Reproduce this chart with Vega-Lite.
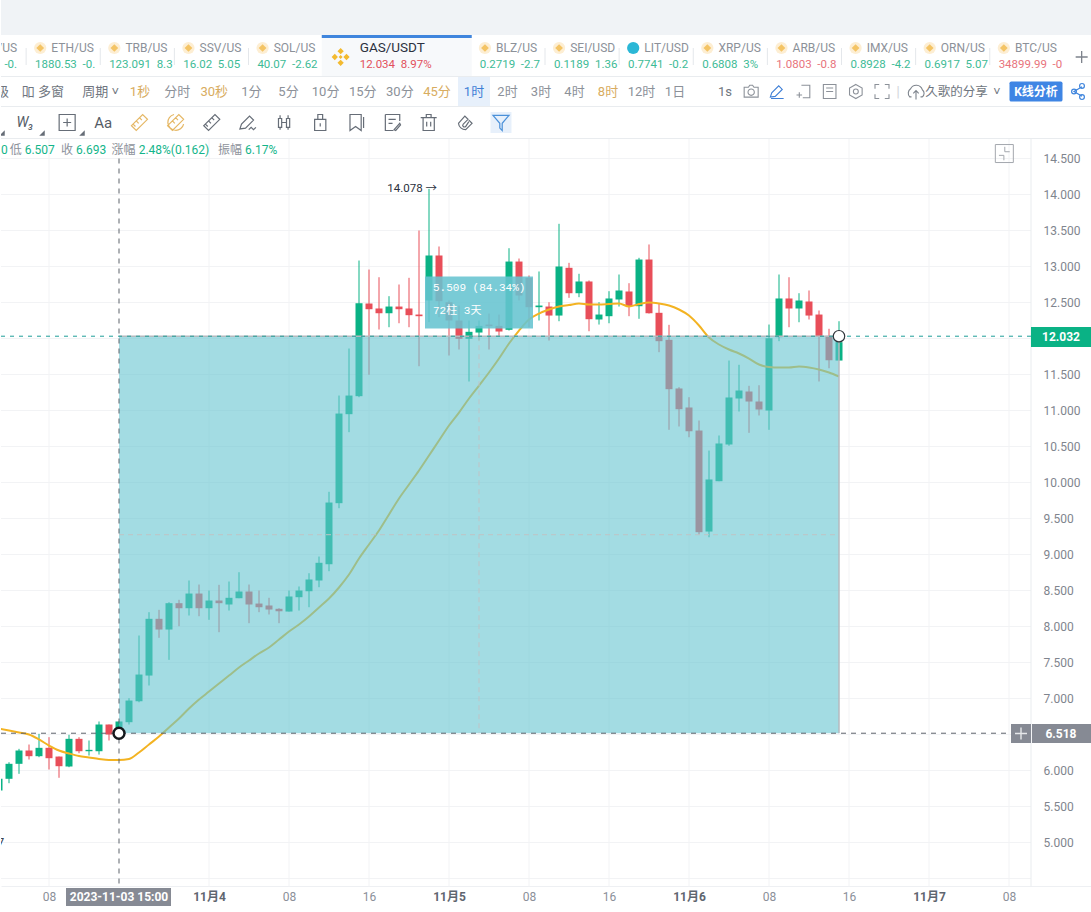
{
  "$schema": "https://vega.github.io/schema/vega-lite/v6.json",
  "padding": 0,
  "spacing": 0,
  "bounds": "flush",
  "background": "white",
  "resolve": {"scale": {"color": "independent", "shape": "independent"}},
  "config": {"font": "Roboto, 'Noto Sans CJK SC', sans-serif", "view": {"stroke": null}},
  "datasets": {
    "tabs": [
      {"tab": "ETH", "name": "ETH/US", "value": "1880.53\u00a0\u00a0-0.", "trend": "up", "coin": "binance"},
      {"tab": "TRB", "name": "TRB/US", "value": "123.091\u00a0\u00a08.3", "trend": "up", "coin": "binance"},
      {"tab": "SSV", "name": "SSV/US", "value": "16.02\u00a0\u00a05.05", "trend": "up", "coin": "binance"},
      {"tab": "SOL", "name": "SOL/US", "value": "40.07\u00a0\u00a0-2.62", "trend": "up", "coin": "binance"},
      {"tab": "BLZ", "name": "BLZ/US", "value": "0.2719\u00a0\u00a0-2.7", "trend": "up", "coin": "binance"},
      {"tab": "SEI", "name": "SEI/USD", "value": "0.1189\u00a0\u00a01.36", "trend": "up", "coin": "binance"},
      {"tab": "LIT", "name": "LIT/USD", "value": "0.7741\u00a0\u00a0-0.2", "trend": "up", "coin": "lit"},
      {"tab": "XRP", "name": "XRP/US", "value": "0.6808\u00a0\u00a03%", "trend": "up", "coin": "binance"},
      {"tab": "ARB", "name": "ARB/US", "value": "1.0803\u00a0\u00a0-0.8", "trend": "down", "coin": "binance"},
      {"tab": "IMX", "name": "IMX/US", "value": "0.8928\u00a0\u00a0-4.2", "trend": "up", "coin": "binance"},
      {"tab": "ORN", "name": "ORN/US", "value": "0.6917\u00a0\u00a05.07", "trend": "up", "coin": "binance"},
      {"tab": "BTC", "name": "BTC/US", "value": "34899.99\u00a0\u00a0-0", "trend": "down", "coin": "binance"}
    ],
    "candles": [
      {"t":"2023-11-03T03:00:00Z","open":5.722,"high":5.907,"low":5.699,"close":5.885,"side":"up","ma":6.583},
      {"t":"2023-11-03T04:00:00Z","open":5.885,"high":6.115,"low":5.824,"close":6.093,"side":"up","ma":6.555},
      {"t":"2023-11-03T05:00:00Z","open":6.093,"high":6.301,"low":5.954,"close":6.278,"side":"up","ma":6.528},
      {"t":"2023-11-03T06:00:00Z","open":6.278,"high":6.361,"low":6.153,"close":6.199,"side":"down","ma":6.5},
      {"t":"2023-11-03T07:00:00Z","open":6.199,"high":6.51,"low":6.185,"close":6.315,"side":"up","ma":6.431},
      {"t":"2023-11-03T08:00:00Z","open":6.315,"high":6.463,"low":6.014,"close":6.171,"side":"down","ma":6.347},
      {"t":"2023-11-03T09:00:00Z","open":6.194,"high":6.194,"low":5.899,"close":6.06,"side":"down","ma":6.278},
      {"t":"2023-11-03T10:00:00Z","open":6.056,"high":6.496,"low":6.046,"close":6.44,"side":"up","ma":6.236},
      {"t":"2023-11-03T11:00:00Z","open":6.44,"high":6.463,"low":6.24,"close":6.268,"side":"down","ma":6.201},
      {"t":"2023-11-03T12:00:00Z","open":6.268,"high":6.417,"low":6.208,"close":6.287,"side":"up","ma":6.181},
      {"t":"2023-11-03T13:00:00Z","open":6.268,"high":6.681,"low":6.222,"close":6.639,"side":"up","ma":6.16},
      {"t":"2023-11-03T14:00:00Z","open":6.639,"high":6.639,"low":6.417,"close":6.5,"side":"down","ma":6.146},
      {"t":"2023-11-03T15:00:00Z","open":6.486,"high":6.681,"low":6.486,"close":6.681,"side":"up","ma":6.146},
      {"t":"2023-11-03T16:00:00Z","open":6.671,"high":7.004,"low":6.639,"close":6.972,"side":"up","ma":6.16},
      {"t":"2023-11-03T17:00:00Z","open":6.962,"high":7.875,"low":6.948,"close":7.333,"side":"up","ma":6.25},
      {"t":"2023-11-03T18:00:00Z","open":7.319,"high":8.199,"low":7.181,"close":8.107,"side":"up","ma":6.361},
      {"t":"2023-11-03T19:00:00Z","open":8.107,"high":8.232,"low":7.843,"close":7.958,"side":"down","ma":6.472},
      {"t":"2023-11-03T20:00:00Z","open":7.958,"high":8.338,"low":7.537,"close":8.324,"side":"up","ma":6.597},
      {"t":"2023-11-03T21:00:00Z","open":8.324,"high":8.371,"low":8.004,"close":8.254,"side":"down","ma":6.722},
      {"t":"2023-11-03T22:00:00Z","open":8.254,"high":8.639,"low":8.153,"close":8.458,"side":"up","ma":6.861},
      {"t":"2023-11-03T23:00:00Z","open":8.458,"high":8.583,"low":8.143,"close":8.254,"side":"down","ma":6.986},
      {"t":"2023-11-04T00:00:00Z","open":8.254,"high":8.5,"low":8.093,"close":8.361,"side":"up","ma":7.097},
      {"t":"2023-11-04T01:00:00Z","open":8.361,"high":8.579,"low":7.921,"close":8.324,"side":"down","ma":7.208},
      {"t":"2023-11-04T02:00:00Z","open":8.306,"high":8.625,"low":8.222,"close":8.399,"side":"up","ma":7.319},
      {"t":"2023-11-04T03:00:00Z","open":8.393,"high":8.754,"low":8.393,"close":8.486,"side":"up","ma":7.431},
      {"t":"2023-11-04T04:00:00Z","open":8.486,"high":8.583,"low":8.046,"close":8.306,"side":"down","ma":7.528},
      {"t":"2023-11-04T05:00:00Z","open":8.319,"high":8.5,"low":8.199,"close":8.268,"side":"down","ma":7.625},
      {"t":"2023-11-04T06:00:00Z","open":8.292,"high":8.399,"low":8.167,"close":8.236,"side":"down","ma":7.708},
      {"t":"2023-11-04T07:00:00Z","open":8.246,"high":8.254,"low":8.046,"close":8.212,"side":"down","ma":7.819},
      {"t":"2023-11-04T08:00:00Z","open":8.208,"high":8.5,"low":8.208,"close":8.417,"side":"up","ma":7.93},
      {"t":"2023-11-04T09:00:00Z","open":8.407,"high":8.556,"low":8.222,"close":8.5,"side":"up","ma":8.028},
      {"t":"2023-11-04T10:00:00Z","open":8.49,"high":8.74,"low":8.268,"close":8.653,"side":"up","ma":8.139},
      {"t":"2023-11-04T11:00:00Z","open":8.639,"high":8.972,"low":8.546,"close":8.885,"side":"up","ma":8.264},
      {"t":"2023-11-04T12:00:00Z","open":8.865,"high":9.871,"low":8.768,"close":9.722,"side":"up","ma":8.389},
      {"t":"2023-11-04T13:00:00Z","open":9.713,"high":11.208,"low":9.643,"close":10.958,"side":"up","ma":8.542},
      {"t":"2023-11-04T14:00:00Z","open":10.949,"high":11.861,"low":10.699,"close":11.208,"side":"up","ma":8.722},
      {"t":"2023-11-04T15:00:00Z","open":11.199,"high":13.083,"low":11.185,"close":12.49,"side":"up","ma":8.944},
      {"t":"2023-11-04T16:00:00Z","open":12.486,"high":12.958,"low":11.496,"close":12.407,"side":"down","ma":9.139},
      {"t":"2023-11-04T17:00:00Z","open":12.417,"high":12.851,"low":12.125,"close":12.351,"side":"down","ma":9.333},
      {"t":"2023-11-04T18:00:00Z","open":12.351,"high":12.588,"low":12.157,"close":12.444,"side":"up","ma":9.556},
      {"t":"2023-11-04T19:00:00Z","open":12.444,"high":12.75,"low":12.212,"close":12.407,"side":"down","ma":9.778},
      {"t":"2023-11-04T20:00:00Z","open":12.417,"high":12.843,"low":12.157,"close":12.324,"side":"down","ma":9.972},
      {"t":"2023-11-04T21:00:00Z","open":12.333,"high":13.5,"low":11.615,"close":12.31,"side":"down","ma":10.167},
      {"t":"2023-11-04T22:00:00Z","open":12.528,"high":14.078,"low":12.227,"close":13.153,"side":"up","ma":10.375},
      {"t":"2023-11-04T23:00:00Z","open":13.153,"high":13.278,"low":12.296,"close":12.518,"side":"down","ma":10.583},
      {"t":"2023-11-05T00:00:00Z","open":12.504,"high":12.528,"low":11.764,"close":12.25,"side":"down","ma":10.792},
      {"t":"2023-11-05T01:00:00Z","open":12.25,"high":12.458,"low":11.847,"close":11.996,"side":"down","ma":10.972},
      {"t":"2023-11-05T02:00:00Z","open":11.996,"high":12.25,"low":11.403,"close":12.093,"side":"up","ma":11.167},
      {"t":"2023-11-05T03:00:00Z","open":12.083,"high":12.25,"low":11.972,"close":12.176,"side":"up","ma":11.347},
      {"t":"2023-11-05T04:00:00Z","open":12.194,"high":12.347,"low":11.847,"close":12.171,"side":"down","ma":11.528},
      {"t":"2023-11-05T05:00:00Z","open":12.176,"high":12.333,"low":12.032,"close":12.097,"side":"down","ma":11.722},
      {"t":"2023-11-05T06:00:00Z","open":12.121,"high":13.254,"low":12.111,"close":13.069,"side":"up","ma":11.931},
      {"t":"2023-11-05T07:00:00Z","open":13.069,"high":13.111,"low":12.528,"close":12.597,"side":"down","ma":12.111},
      {"t":"2023-11-05T08:00:00Z","open":12.843,"high":12.875,"low":12.157,"close":12.435,"side":"down","ma":12.264},
      {"t":"2023-11-05T09:00:00Z","open":12.435,"high":12.931,"low":12.25,"close":12.458,"side":"up","ma":12.347},
      {"t":"2023-11-05T10:00:00Z","open":12.444,"high":12.504,"low":11.972,"close":12.319,"side":"down","ma":12.403},
      {"t":"2023-11-05T11:00:00Z","open":12.319,"high":13.593,"low":12.24,"close":13.0,"side":"up","ma":12.444},
      {"t":"2023-11-05T12:00:00Z","open":12.982,"high":13.051,"low":12.565,"close":12.629,"side":"down","ma":12.465},
      {"t":"2023-11-05T13:00:00Z","open":12.629,"high":12.899,"low":12.574,"close":12.792,"side":"up","ma":12.486},
      {"t":"2023-11-05T14:00:00Z","open":12.792,"high":12.806,"low":12.101,"close":12.268,"side":"down","ma":12.472},
      {"t":"2023-11-05T15:00:00Z","open":12.264,"high":12.504,"low":12.194,"close":12.333,"side":"up","ma":12.472},
      {"t":"2023-11-05T16:00:00Z","open":12.31,"high":12.657,"low":12.212,"close":12.556,"side":"up","ma":12.479},
      {"t":"2023-11-05T17:00:00Z","open":12.542,"high":12.889,"low":12.444,"close":12.667,"side":"up","ma":12.486},
      {"t":"2023-11-05T18:00:00Z","open":12.653,"high":12.768,"low":12.31,"close":12.449,"side":"down","ma":12.444},
      {"t":"2023-11-05T19:00:00Z","open":12.449,"high":13.121,"low":12.274,"close":13.097,"side":"up","ma":12.479},
      {"t":"2023-11-05T20:00:00Z","open":13.097,"high":13.306,"low":12.347,"close":12.351,"side":"down","ma":12.5},
      {"t":"2023-11-05T21:00:00Z","open":12.357,"high":12.49,"low":11.81,"close":11.963,"side":"down","ma":12.486},
      {"t":"2023-11-05T22:00:00Z","open":11.982,"high":12.19,"low":10.732,"close":11.296,"side":"down","ma":12.458},
      {"t":"2023-11-05T23:00:00Z","open":11.306,"high":11.324,"low":10.778,"close":11.018,"side":"down","ma":12.403},
      {"t":"2023-11-06T00:00:00Z","open":11.042,"high":11.185,"low":10.629,"close":10.712,"side":"down","ma":12.319},
      {"t":"2023-11-06T01:00:00Z","open":10.722,"high":10.861,"low":9.278,"close":9.31,"side":"down","ma":12.181},
      {"t":"2023-11-06T02:00:00Z","open":9.319,"high":10.444,"low":9.24,"close":10.042,"side":"up","ma":12.014},
      {"t":"2023-11-06T03:00:00Z","open":10.018,"high":10.653,"low":10.018,"close":10.542,"side":"up","ma":11.917},
      {"t":"2023-11-06T04:00:00Z","open":10.528,"high":11.694,"low":10.51,"close":11.181,"side":"up","ma":11.847},
      {"t":"2023-11-06T05:00:00Z","open":11.167,"high":11.635,"low":10.986,"close":11.278,"side":"up","ma":11.792},
      {"t":"2023-11-06T06:00:00Z","open":11.264,"high":11.343,"low":10.69,"close":11.125,"side":"down","ma":11.722},
      {"t":"2023-11-06T07:00:00Z","open":11.125,"high":11.351,"low":10.931,"close":11.014,"side":"down","ma":11.639},
      {"t":"2023-11-06T08:00:00Z","open":11.0,"high":12.194,"low":10.732,"close":12.004,"side":"up","ma":11.604},
      {"t":"2023-11-06T09:00:00Z","open":12.018,"high":12.889,"low":11.963,"close":12.556,"side":"up","ma":11.597},
      {"t":"2023-11-06T10:00:00Z","open":12.556,"high":12.851,"low":12.157,"close":12.417,"side":"down","ma":11.597},
      {"t":"2023-11-06T11:00:00Z","open":12.417,"high":12.629,"low":12.226,"close":12.528,"side":"up","ma":11.611},
      {"t":"2023-11-06T12:00:00Z","open":12.514,"high":12.667,"low":12.264,"close":12.319,"side":"down","ma":11.597},
      {"t":"2023-11-06T13:00:00Z","open":12.333,"high":12.389,"low":11.403,"close":12.028,"side":"down","ma":11.569},
      {"t":"2023-11-06T14:00:00Z","open":12.037,"high":12.135,"low":11.587,"close":11.698,"side":"down","ma":11.528},
      {"t":"2023-11-06T15:00:00Z","open":11.694,"high":12.24,"low":11.694,"close":11.949,"side":"up","ma":11.472}
    ]
  },
  "vconcat": [
    {
      "width": 1091, "height": 35,
      "view": {"fill": "#f0f3f6", "stroke": null},
      "data": {"values": [{"strip": "top"}]},
      "mark": {"type": "rule", "opacity": 0},
      "encoding": {"x": {"field": "strip", "type": "nominal", "axis": null}}
    },
    {
      "width": 1091, "height": 3,
      "data": {"values": [{"tab": "GAS"}]},
      "mark": {"type": "rule", "strokeWidth": 150, "color": "#3f85dd", "clip": true},
      "encoding": {"x": {"field": "tab", "type": "nominal", "bandPosition": 1, "axis": null,
        "scale": {"type": "band", "domain": ["first","ETH","TRB","SSV","SOL","GAS","spare","BLZ","SEI","LIT","XRP","ARB","IMX","ORN","BTC","plus"], "range": [-49, 1137], "paddingInner": 0, "paddingOuter": 0}}}
    },
    {
      "width": 1091, "height": 38,
      "resolve": {"scale": {"color": "independent"}},
      "encoding": {"x": {"field": "tab", "type": "nominal", "axis": null,
        "scale": {"type": "band", "domain": ["first","ETH","TRB","SSV","SOL","GAS","spare","BLZ","SEI","LIT","XRP","ARB","IMX","ORN","BTC","plus"], "range": [-49, 1137], "paddingInner": 0, "paddingOuter": 0}}},
      "layer": [
        {
          "data": {"values": [{"tab": "GAS"}]},
          "mark": {"type": "rule", "strokeWidth": 150, "color": "#f7f9fb", "clip": true},
          "encoding": {"x": {"field": "tab", "type": "nominal", "bandPosition": 1, "axis": null}}
        },
        {
          "data": {"values": [{"tab":"ETH"},{"tab":"TRB"},{"tab":"SSV"},{"tab":"SOL"},{"tab":"SEI"},{"tab":"LIT"},{"tab":"XRP"},{"tab":"ARB"},{"tab":"IMX"},{"tab":"ORN"},{"tab":"BTC"}]},
          "mark": {"type": "rule", "color": "#e4e7eb"},
          "encoding": {
            "x": {"field": "tab", "type": "nominal", "bandPosition": 0, "axis": null},
            "y": {"datum": "symbol", "type": "nominal", "axis": null, "scale": {"type": "point", "domain": ["symbol","value"], "range": [10, 27], "padding": 0}},
            "y2": {"datum": "value"}
          }
        },
        {
          "data": {"name": "tabs"},
          "mark": {"type": "point", "shape": "circle", "filled": true, "size": 150, "opacity": 1},
          "encoding": {
            "x": {"field": "tab", "type": "nominal", "bandPosition": 0.19, "axis": null},
            "y": {"datum": "symbol", "type": "nominal", "axis": null},
            "color": {"field": "coin", "type": "nominal", "legend": null, "scale": {"domain": ["binance","lit"], "range": ["#fdeed3","#2bb7d6"]}}
          }
        },
        {
          "data": {"name": "tabs"},
          "transform": [{"filter": "datum.coin === 'binance'"}],
          "mark": {"type": "point", "shape": "diamond", "filled": true, "size": 60, "opacity": 1, "color": "#f4c465"},
          "encoding": {
            "x": {"field": "tab", "type": "nominal", "bandPosition": 0.19, "axis": null},
            "y": {"datum": "symbol", "type": "nominal", "axis": null}
          }
        },
        {
          "data": {"name": "tabs"},
          "mark": {"type": "text", "align": "left", "fontSize": 12, "color": "#8c9199"},
          "encoding": {
            "x": {"field": "tab", "type": "nominal", "bandPosition": 0.34, "axis": null},
            "y": {"datum": "symbol", "type": "nominal", "axis": null},
            "text": {"field": "name"}
          }
        },
        {
          "data": {"name": "tabs"},
          "mark": {"type": "text", "align": "left", "fontSize": 11.5},
          "encoding": {
            "x": {"field": "tab", "type": "nominal", "bandPosition": 0.12, "axis": null},
            "y": {"datum": "value", "type": "nominal", "axis": null},
            "text": {"field": "value"},
            "color": {"field": "trend", "type": "nominal", "legend": null, "scale": {"domain": ["up","down"], "range": ["#3dbb96","#e8737c"]}}
          }
        },
        {
          "data": {"values": [{"tab": "first", "name": "/US"}]},
          "mark": {"type": "text", "align": "right", "fontSize": 12, "color": "#8c9199", "clip": true},
          "encoding": {
            "x": {"field": "tab", "type": "nominal", "bandPosition": 0.878, "axis": null},
            "y": {"datum": "symbol", "type": "nominal", "axis": null},
            "text": {"field": "name"}
          }
        },
        {
          "data": {"values": [{"tab": "first", "value": "-0."}]},
          "mark": {"type": "text", "align": "right", "fontSize": 11.5, "color": "#3dbb96", "clip": true},
          "encoding": {
            "x": {"field": "tab", "type": "nominal", "bandPosition": 0.878, "axis": null},
            "y": {"datum": "value", "type": "nominal", "axis": null},
            "text": {"field": "value"}
          }
        },
        {
          "data": {"values": [{"tab": "GAS", "name": "GAS/USDT", "value": "12.034\u00a0\u00a08.97%"}]},
          "mark": {"type": "point", "filled": true, "size": 324, "opacity": 1, "color": "#f3ba2f",
            "shape": "M0,-1L.35,-.65L0,-.3L-.35,-.65Z M.65,-.35L1,0L.65,.35L.3,0Z M0,.3L.35,.65L0,1L-.35,.65Z M-.65,-.35L-.3,0L-.65,.35L-1,0Z M0,-.22L.22,0L0,.22L-.22,0Z"},
          "encoding": {"x": {"field": "tab", "type": "nominal", "bandPosition": 0.243, "axis": null}}
        },
        {
          "data": {"values": [{"tab": "GAS", "name": "GAS/USDT", "value": "12.034\u00a0\u00a08.97%"}]},
          "mark": {"type": "text", "align": "left", "fontSize": 13.5, "color": "#2b3140"},
          "encoding": {
            "x": {"field": "tab", "type": "nominal", "bandPosition": 0.5, "axis": null},
            "y": {"datum": "symbol", "type": "nominal", "axis": null},
            "text": {"field": "name"}
          }
        },
        {
          "data": {"values": [{"tab": "GAS", "name": "GAS/USDT", "value": "12.034\u00a0\u00a08.97%"}]},
          "mark": {"type": "text", "align": "left", "fontSize": 11.5, "color": "#e2505c"},
          "encoding": {
            "x": {"field": "tab", "type": "nominal", "bandPosition": 0.5, "axis": null},
            "y": {"datum": "value", "type": "nominal", "axis": null},
            "text": {"field": "value"}
          }
        },
        {
          "data": {"values": [{"tab": "plus"}]},
          "mark": {"type": "point", "shape": "M-1,0H1M0,-1V1", "filled": false, "size": 144, "strokeWidth": 1.3, "color": "#7d838c", "opacity": 1},
          "encoding": {"x": {"field": "tab", "type": "nominal", "bandPosition": 0.24, "axis": null}}
        }
      ]
    },
    {
      "width": 1091, "height": 1,
      "view": {"fill": "#e9ecef", "stroke": null},
      "data": {"values": [{"strip": "line"}]},
      "mark": {"type": "rule", "opacity": 0},
      "encoding": {"x": {"field": "strip", "type": "nominal", "axis": null}}
    },
    {
      "width": 1091, "height": 29,
      "resolve": {"scale": {"x": "independent"}},
      "layer": [
        {
          "data": {"values": [{"key": "1时"}]},
          "mark": {"type": "rule", "strokeWidth": 32, "color": "#e7f0fb", "clip": true},
          "encoding": {"x": {"field": "key", "type": "nominal", "axis": null, "scale": {"type": "point", "domain": ["1时","2时","3时","4时","8时","12时","1日"], "range": [473, 674], "padding": 0}}}
        },
        {
          "data": {"values": [{"key": "级"},{"key": "吅 多窗"},{"key": "周期 ˅"}]},
          "mark": {"type": "text", "align": "right", "fontSize": 13, "color": "#6f7680", "clip": true},
          "encoding": {
            "x": {"field": "key", "type": "nominal", "axis": null, "scale": {"type": "point", "domain": ["级","吅 多窗","周期 ˅"], "range": [8, 118], "padding": 0}},
            "text": {"field": "key"}
          }
        },
        {
          "data": {"values": [{"key":"1秒","tone":"gold"},{"key":"分时","tone":"plain"},{"key":"30秒","tone":"gold"},{"key":"1分","tone":"plain"},{"key":"5分","tone":"plain"},{"key":"10分","tone":"plain"},{"key":"15分","tone":"plain"},{"key":"30分","tone":"plain"},{"key":"45分","tone":"gold"}]},
          "mark": {"type": "text", "fontSize": 13},
          "encoding": {
            "x": {"field": "key", "type": "nominal", "axis": null, "scale": {"type": "point", "domain": ["1秒","分时","30秒","1分","5分","10分","15分","30分","45分"], "range": [139, 436], "padding": 0}},
            "text": {"field": "key"},
            "color": {"field": "tone", "type": "nominal", "legend": null, "scale": {"domain": ["gold","plain","active"], "range": ["#d8ac60","#8c9199","#3f7fd6"]}}
          }
        },
        {
          "data": {"values": [{"key":"1时","tone":"active"},{"key":"2时","tone":"plain"},{"key":"3时","tone":"plain"},{"key":"4时","tone":"plain"},{"key":"8时","tone":"gold"},{"key":"12时","tone":"plain"},{"key":"1日","tone":"plain"}]},
          "mark": {"type": "text", "fontSize": 13},
          "encoding": {
            "x": {"field": "key", "type": "nominal", "axis": null, "scale": {"type": "point", "domain": ["1时","2时","3时","4时","8时","12时","1日"], "range": [473, 674], "padding": 0}},
            "text": {"field": "key"},
            "color": {"field": "tone", "type": "nominal", "legend": null}
          }
        },
        {
          "data": {"values": [{"key": "1s"}]},
          "mark": {"type": "text", "fontSize": 13, "color": "#6f7680"},
          "encoding": {
            "x": {"field": "key", "type": "nominal", "axis": null, "scale": {"type": "point", "domain": ["1s","camera","pen","box","note","hex","full"], "range": [724, 881], "padding": 0}},
            "text": {"field": "key"}
          }
        },
        {
          "data": {"values": [{"key":"camera","tone":"plain"},{"key":"pen","tone":"active"},{"key":"box","tone":"plain"},{"key":"note","tone":"plain"},{"key":"hex","tone":"plain"},{"key":"full","tone":"plain"}]},
          "mark": {"type": "point", "filled": false, "size": 196, "strokeWidth": 1.1, "opacity": 1},
          "encoding": {
            "x": {"field": "key", "type": "nominal", "axis": null, "scale": {"type": "point", "domain": ["1s","camera","pen","box","note","hex","full"], "range": [724, 881], "padding": 0}},
            "color": {"field": "tone", "type": "nominal", "legend": null},
            "shape": {"field": "key", "type": "nominal", "legend": null, "scale": {
              "domain": ["camera","pen","box","note","hex","full"],
              "range": [
                "M-1,-.6H-.4L-.2,-.9H.2L.4,-.6H1V.8H-1Z M.45,.1A.45,.45 0 1 0 -.45,.1A.45,.45 0 1 0 .45,.1",
                "M-1,.8L-.8,.2L.2,-.8L.7,-.3L-.3,.7Z M-.9,1H.9",
                "M-.3,-.9H.9V.9H-.1 M-1,.5H-.2M-.6,.1V.9",
                "M-.9,-1H.9V1H-.9Z M-.5,-.5H.5 M-.5,0H.5",
                "M0,-1L.9,-.5V.5L0,1L-.9,.5V-.5Z M.35,0A.35,.35 0 1 0 -.35,0A.35,.35 0 1 0 .35,0",
                "M-1,-.4V-1H-.4 M.4,-1H1V-.4 M1,.4V1H.4 M-.4,1H-1V.4"
              ]}}
          }
        },
        {
          "data": {"values": [{"key": "|"}]},
          "mark": {"type": "text", "fontSize": 15, "color": "#d5d8dd"},
          "encoding": {
            "x": {"field": "key", "type": "nominal", "axis": null, "scale": {"type": "point", "domain": ["|","spare"], "range": [897, 915], "padding": 0}},
            "text": {"field": "key"}
          }
        },
        {
          "data": {"values": [{"key": "cloud"}]},
          "mark": {"type": "point", "filled": false, "size": 324, "strokeWidth": 1.1, "opacity": 1, "color": "#7d838c",
            "shape": "M-.5,.6H-.7A.6,.6 0 0 1 -.6,-.3A.7,.7 0 0 1 .7,-.2A.5,.5 0 0 1 .7,.6H.5 M0,.9V-.1 M-.3,.2L0,-.1L.3,.2"},
          "encoding": {"x": {"field": "key", "type": "nominal", "axis": null, "scale": {"type": "point", "domain": ["cloud","久歌的分享","˅"], "range": [915, 996], "padding": 0}}}
        },
        {
          "data": {"values": [{"key": "久歌的分享"},{"key": "˅"}]},
          "mark": {"type": "text", "fontSize": 12.5, "color": "#6f7680"},
          "encoding": {
            "x": {"field": "key", "type": "nominal", "axis": null, "scale": {"type": "point", "domain": ["cloud","久歌的分享","˅"], "range": [915, 996], "padding": 0}},
            "text": {"field": "key"}
          }
        },
        {
          "data": {"values": [{"key": "K线分析"}]},
          "mark": {"type": "point", "filled": true, "size": 2809, "opacity": 1, "color": "#3f85e4", "clip": true,
            "shape": "M-.93,-.38H.93Q1,-.38 1,-.31V.31Q1,.38 .93,.38H-.93Q-1,.38 -1,.31V-.31Q-1,-.38 -.93,-.38Z"},
          "encoding": {"x": {"field": "key", "type": "nominal", "axis": null, "scale": {"type": "point", "domain": ["K线分析","share"], "range": [1035, 1077], "padding": 0}}}
        },
        {
          "data": {"values": [{"key": "K线分析"}]},
          "mark": {"type": "text", "fontSize": 12, "fontWeight": "bold", "color": "white"},
          "encoding": {
            "x": {"field": "key", "type": "nominal", "axis": null, "scale": {"type": "point", "domain": ["K线分析","share"], "range": [1035, 1077], "padding": 0}},
            "text": {"field": "key"}
          }
        },
        {
          "data": {"values": [{"key": "share"}]},
          "mark": {"type": "point", "filled": false, "size": 256, "strokeWidth": 1.2, "opacity": 1, "color": "#3f85dd",
            "shape": "M.5,-.6L-.5,0L.5,.6 M.8,-.7A.3,.3 0 1 0 .2,-.7A.3,.3 0 1 0 .8,-.7 M-.2,0A.3,.3 0 1 0 -.8,0A.3,.3 0 1 0 -.2,0 M.8,.7A.3,.3 0 1 0 .2,.7A.3,.3 0 1 0 .8,.7"},
          "encoding": {"x": {"field": "key", "type": "nominal", "axis": null, "scale": {"type": "point", "domain": ["K线分析","share"], "range": [1035, 1077], "padding": 0}}}
        }
      ]
    },
    {
      "width": 1091, "height": 1,
      "view": {"fill": "#e9ecef", "stroke": null},
      "data": {"values": [{"strip": "line"}]},
      "mark": {"type": "rule", "opacity": 0},
      "encoding": {"x": {"field": "strip", "type": "nominal", "axis": null}}
    },
    {
      "width": 1091, "height": 31,
      "resolve": {"scale": {"x": "independent"}},
      "layer": [
        {
          "data": {"values": [{"key": "filter"}]},
          "mark": {"type": "point", "shape": "square", "filled": true, "size": 441, "color": "#e7f0fb", "opacity": 1},
          "encoding": {"x": {"field": "key", "type": "nominal", "axis": null, "scale": {"type": "point", "domain": ["W3","box","Aa","ruler","rulercircle","ruler2","pen","candles","lock","bookmark","note","trash","magnet","filter"], "range": [30, 500], "padding": 0}}}
        },
        {
          "data": {"values": [{"key": "edge"},{"key": "w3"},{"key": "box"}]},
          "mark": {"type": "point", "shape": "M1,-1V1H-1Z", "filled": true, "size": 30, "color": "#666d77", "opacity": 1, "clip": true},
          "encoding": {
            "x": {"field": "key", "type": "nominal", "axis": null, "scale": {"type": "point", "domain": ["edge","w3","box"], "range": [1, 81], "padding": 0}},
            "y": {"datum": "corner", "type": "nominal", "axis": null, "scale": {"type": "point", "domain": ["corner","spare"], "range": [26, 40], "padding": 0}}
          }
        },
        {
          "data": {"values": [{"key": "W\u2083"}]},
          "mark": {"type": "text", "fontSize": 14, "fontStyle": "italic", "color": "#555c66"},
          "encoding": {
            "x": {"field": "key", "type": "nominal", "axis": null, "scale": {"type": "point", "domain": ["W\u2083","spare"], "range": [24, 60], "padding": 0}},
            "text": {"field": "key"}
          }
        },
        {
          "data": {"values": [{"key": "Aa"}]},
          "mark": {"type": "text", "fontSize": 15, "color": "#555c66"},
          "encoding": {
            "x": {"field": "key", "type": "nominal", "axis": null, "scale": {"type": "point", "domain": ["W3","box","Aa","ruler","rulercircle","ruler2","pen","candles","lock","bookmark","note","trash","magnet","filter"], "range": [30, 500], "padding": 0}},
            "text": {"field": "key"}
          }
        },
        {
          "data": {"values": [{"key":"box","tone":"plain"},{"key":"ruler","tone":"gold"},{"key":"rulercircle","tone":"gold"},{"key":"ruler2","tone":"plain"},{"key":"pen","tone":"plain"},{"key":"candles","tone":"plain"},{"key":"lock","tone":"plain"},{"key":"bookmark","tone":"plain"},{"key":"note","tone":"plain"},{"key":"trash","tone":"plain"},{"key":"magnet","tone":"plain"},{"key":"filter","tone":"active"}]},
          "mark": {"type": "point", "filled": false, "size": 256, "strokeWidth": 1.2, "opacity": 1},
          "encoding": {
            "x": {"field": "key", "type": "nominal", "axis": null, "scale": {"type": "point", "domain": ["W3","box","Aa","ruler","rulercircle","ruler2","pen","candles","lock","bookmark","note","trash","magnet","filter"], "range": [30, 500], "padding": 0}},
            "color": {"field": "tone", "type": "nominal", "legend": null, "scale": {"domain": ["gold","plain","active"], "range": ["#e5b764","#666d77","#4a90d9"]}},
            "shape": {"field": "key", "type": "nominal", "legend": null, "scale": {
              "domain": ["box","ruler","rulercircle","ruler2","pen","candles","lock","bookmark","note","trash","magnet","filter"],
              "range": [
                "M-1,-1H1V1H-1Z M0,-.5V.5 M-.5,0H.5",
                "M-1,.4L.4,-1L1,-.4L-.4,1Z M-.4,-.2L-.1,.1 M0,-.6L.3,-.3 M-.8,.2L-.5,.5",
                "M-.2,-1A1,1 0 1 0 1,.2 M-1,.4L.4,-1L1,-.4L-.4,1Z M-.4,-.2L-.1,.1 M0,-.6L.3,-.3",
                "M-1,.4L.4,-1L1,-.4L-.4,1Z M-.4,-.2L-.1,.1 M0,-.6L.3,-.3 M-.8,.2L-.5,.5",
                "M-1,.8L-.8,.2L.2,-.8L.7,-.3L-.3,.7Z M.1,.9L.4,.6L.7,.9L1,.6",
                "M-.7,-.5H-.3V.6H-.7Z M-.5,-.9V-.5 M-.5,.6V.9 M.3,-.5H.7V.6H.3Z M.5,-.9V-.5 M.5,.6V.9 M-.3,0H.3",
                "M-.7,-.4H.7V1H-.7Z M-.3,-.4V-1H.3V-.4 M0,.1V.5",
                "M-.8,-1H.6V1L-.1,.5L-.8,1Z M.9,-.7V.7",
                "M-.9,-1H.9V-.2 M-.9,-1V1H.1 M-.5,-.4H.4 M-.5,.1H0 M.2,.9L.9,.1L1,.3L.4,1Z",
                "M-1,-.6H1 M-.3,-.6V-1H.3V-.6 M-.7,-.6V1H.7V-.6 M-.25,-.1V.5 M.25,-.1V.5",
                "M-.8,.1A.9,.9 0 0 0 .1,.9L.9,.1L.5,-.3 M-.8,.1L0,-.8L.4,-.4L-.2,.2A.2,.2 0 0 0 .1,.5L.5,-.1",
                "M-1,-.9H1L.15,.1V1L-.15,.7V.1Z"
              ]}}
          }
        }
      ]
    },
    {
      "width": 1091, "height": 1,
      "view": {"fill": "#e9ecef", "stroke": null},
      "data": {"values": [{"strip": "line"}]},
      "mark": {"type": "rule", "opacity": 0},
      "encoding": {"x": {"field": "strip", "type": "nominal", "axis": null}}
    },
    {
      "width": 1091, "height": 773,
      "resolve": {"scale": {"color": "independent"}},
      "encoding": {
        "x": {
          "field": "t", "type": "temporal", "title": null,
          "scale": {"type": "utc", "domain": ["2023-11-03T03:12:00Z", "2023-11-07T16:18:00Z"], "padding": 0},
          "axis": {
            "orient": "bottom", "offset": -26, "zindex": 0, "grid": false, "ticks": false, "domainColor": "#eef0f3", "labelPadding": 5,
            "values": ["2023-11-03T08:00:00Z","2023-11-04T00:00:00Z","2023-11-04T08:00:00Z","2023-11-04T16:00:00Z","2023-11-05T00:00:00Z","2023-11-05T08:00:00Z","2023-11-05T16:00:00Z","2023-11-06T00:00:00Z","2023-11-06T08:00:00Z","2023-11-06T16:00:00Z","2023-11-07T00:00:00Z","2023-11-07T08:00:00Z"],
            "labelExpr": "utchours(datum.value) == 0 ? '11月' + utcdate(datum.value) : (utchours(datum.value) < 10 ? '0' : '') + utchours(datum.value)",
            "labelFontSize": 12, "labelFlush": false, "labelOverlap": false,
            "labelColor": {"condition": {"test": "utchours(datum.value) == 0", "value": "#5f6670"}, "value": "#8b9099"},
            "labelFontWeight": {"condition": {"test": "utchours(datum.value) == 0", "value": "bold"}, "value": "normal"}
          }
        },
        "y": {
          "field": "price", "type": "quantitative", "title": null,
          "scale": {"domain": [4.035, 14.771], "nice": false, "zero": false},
          "axis": {
            "orient": "right", "offset": -61, "zindex": 0, "grid": false, "ticks": false, "domain": false, "labelPadding": 12,
            "values": [14.5,14,13.5,13,12.5,11.5,11,10.5,10,9.5,9,8.5,8,7.5,7,6,5.5,5],
            "format": ".3f", "labelFontSize": 12, "labelColor": "#7f858e", "labelFlush": false, "labelOverlap": false
          }
        }
      },
      "layer": [
        {
          "data": {"values": [
            {"t":"2023-11-03T03:12:00Z","t2":"2023-11-07T10:12:00Z","price":14.5},{"t":"2023-11-03T03:12:00Z","t2":"2023-11-07T10:12:00Z","price":14},
            {"t":"2023-11-03T03:12:00Z","t2":"2023-11-07T10:12:00Z","price":13.5},{"t":"2023-11-03T03:12:00Z","t2":"2023-11-07T10:12:00Z","price":13},
            {"t":"2023-11-03T03:12:00Z","t2":"2023-11-07T10:12:00Z","price":12.5},{"t":"2023-11-03T03:12:00Z","t2":"2023-11-07T10:12:00Z","price":12},
            {"t":"2023-11-03T03:12:00Z","t2":"2023-11-07T10:12:00Z","price":11.5},{"t":"2023-11-03T03:12:00Z","t2":"2023-11-07T10:12:00Z","price":11},
            {"t":"2023-11-03T03:12:00Z","t2":"2023-11-07T10:12:00Z","price":10.5},{"t":"2023-11-03T03:12:00Z","t2":"2023-11-07T10:12:00Z","price":10},
            {"t":"2023-11-03T03:12:00Z","t2":"2023-11-07T10:12:00Z","price":9.5},{"t":"2023-11-03T03:12:00Z","t2":"2023-11-07T10:12:00Z","price":9},
            {"t":"2023-11-03T03:12:00Z","t2":"2023-11-07T10:12:00Z","price":8.5},{"t":"2023-11-03T03:12:00Z","t2":"2023-11-07T10:12:00Z","price":8},
            {"t":"2023-11-03T03:12:00Z","t2":"2023-11-07T10:12:00Z","price":7.5},{"t":"2023-11-03T03:12:00Z","t2":"2023-11-07T10:12:00Z","price":7},
            {"t":"2023-11-03T03:12:00Z","t2":"2023-11-07T10:12:00Z","price":6.5},{"t":"2023-11-03T03:12:00Z","t2":"2023-11-07T10:12:00Z","price":6},
            {"t":"2023-11-03T03:12:00Z","t2":"2023-11-07T10:12:00Z","price":5.5},{"t":"2023-11-03T03:12:00Z","t2":"2023-11-07T10:12:00Z","price":5},
            {"t":"2023-11-03T03:12:00Z","t2":"2023-11-07T10:12:00Z","price":4.5}
          ]},
          "mark": {"type": "rule", "color": "#f2f3f5"},
          "encoding": {"x2": {"field": "t2"}}
        },
        {
          "data": {"values": [
            {"t":"2023-11-03T08:00:00Z","price":14.771,"price2":4.389},{"t":"2023-11-04T00:00:00Z","price":14.771,"price2":4.389},
            {"t":"2023-11-04T08:00:00Z","price":14.771,"price2":4.389},{"t":"2023-11-04T16:00:00Z","price":14.771,"price2":4.389},
            {"t":"2023-11-05T00:00:00Z","price":14.771,"price2":4.389},{"t":"2023-11-05T08:00:00Z","price":14.771,"price2":4.389},
            {"t":"2023-11-05T16:00:00Z","price":14.771,"price2":4.389},{"t":"2023-11-06T00:00:00Z","price":14.771,"price2":4.389},
            {"t":"2023-11-06T08:00:00Z","price":14.771,"price2":4.389},{"t":"2023-11-06T16:00:00Z","price":14.771,"price2":4.389},
            {"t":"2023-11-07T00:00:00Z","price":14.771,"price2":4.389},{"t":"2023-11-07T08:00:00Z","price":14.771,"price2":4.389}
          ]},
          "mark": {"type": "rule", "color": "#f2f3f5"},
          "encoding": {"y2": {"field": "price2"}}
        },
        {
          "data": {"values": [{"t":"2023-11-07T10:12:00Z","price":14.771,"price2":4.389}]},
          "mark": {"type": "rule", "color": "#e9ecef"},
          "encoding": {"y2": {"field": "price2"}}
        },
        {
          "data": {"name": "candles"},
          "mark": {"type": "rule", "strokeWidth": 1, "clip": true},
          "encoding": {
            "y": {"field": "high", "type": "quantitative"},
            "y2": {"field": "low"},
            "color": {"field": "side", "type": "nominal", "legend": null, "scale": {"domain": ["up","down"], "range": ["#0ab285","#e84e59"]}}
          }
        },
        {
          "data": {"name": "candles"},
          "mark": {"type": "bar", "size": 7, "clip": true},
          "encoding": {
            "y": {"field": "open", "type": "quantitative"},
            "y2": {"field": "close"},
            "color": {"field": "side", "type": "nominal", "legend": null, "scale": {"domain": ["up","down"], "range": ["#0ab285","#e84e59"]}}
          }
        },
        {
          "data": {"name": "candles"},
          "mark": {"type": "line", "color": "#f3b322", "strokeWidth": 2, "interpolate": "monotone", "clip": true},
          "encoding": {"y": {"field": "ma", "type": "quantitative"}}
        },
        {
          "data": {"values": [{"t":"2023-11-03T15:00:00Z","t2":"2023-11-06T15:00:00Z","price":12.032,"price2":6.518}]},
          "mark": {"type": "rect", "color": "#66c4d0", "opacity": 0.6},
          "encoding": {
            "x2": {"field": "t2"},
            "y2": {"field": "price2"}
          }
        },
        {
          "data": {"values": [{"t":"2023-11-03T15:00:00Z","t2":"2023-11-06T15:00:00Z","price":12.032}]},
          "mark": {"type": "rule", "color": "#b5babf", "strokeWidth": 1.5},
          "encoding": {"x2": {"field": "t2"}}
        },
        {
          "data": {"values": [{"t":"2023-11-06T15:00:00Z","price":12.032,"price2":6.518}]},
          "mark": {"type": "rule", "color": "#b5babf", "strokeWidth": 1.5},
          "encoding": {"y2": {"field": "price2"}}
        },
        {
          "data": {"values": [{"t":"2023-11-03T15:00:00Z","t2":"2023-11-06T15:00:00Z","price":9.275}]},
          "mark": {"type": "rule", "color": "#bfc3c6", "strokeDash": [5, 4]},
          "encoding": {"x2": {"field": "t2"}}
        },
        {
          "data": {"values": [{"t":"2023-11-05T03:00:00Z","price":12.032,"price2":6.518}]},
          "mark": {"type": "rule", "color": "#bfc3c6", "strokeDash": [5, 4]},
          "encoding": {"y2": {"field": "price2"}}
        },
        {
          "data": {"values": [{"t":"2023-11-03T03:12:00Z","t2":"2023-11-07T10:12:00Z","price":12.032}]},
          "mark": {"type": "rule", "color": "#1e9e98", "strokeDash": [4, 5]},
          "encoding": {"x2": {"field": "t2"}}
        },
        {
          "data": {"values": [{"t":"2023-11-03T03:12:00Z","t2":"2023-11-07T08:12:00Z","price":6.518}]},
          "mark": {"type": "rule", "color": "#5d636b", "strokeDash": [5, 5]},
          "encoding": {"x2": {"field": "t2"}}
        },
        {
          "data": {"values": [{"t":"2023-11-03T15:00:00Z","price":14.5,"price2":4.389}]},
          "mark": {"type": "rule", "color": "#5d636b", "strokeDash": [5, 5]},
          "encoding": {"y2": {"field": "price2"}}
        },
        {
          "data": {"values": [{"t":"2023-11-04T21:36:00Z","t2":"2023-11-05T08:24:00Z","price":12.861,"price2":12.139}]},
          "mark": {"type": "rect", "color": "#66c4d0", "opacity": 0.88},
          "encoding": {
            "x2": {"field": "t2"},
            "y2": {"field": "price2"}
          }
        },
        {
          "data": {"values": [
            {"t":"2023-11-04T22:24:00Z","price":12.701,"label":"5.509 (84.34%)"},
            {"t":"2023-11-04T22:24:00Z","price":12.382,"label":"72柱 3天"}
          ]},
          "mark": {"type": "text", "align": "left", "fontSize": 11, "font": "Liberation Mono, 'Noto Sans CJK SC'", "color": "white"},
          "encoding": {"text": {"field": "label"}}
        },
        {
          "data": {"values": [{"t":"2023-11-03T15:00:00Z","price":6.518}]},
          "mark": {"type": "point", "shape": "circle", "filled": true, "fill": "white", "stroke": "#15181c", "strokeWidth": 2.4, "size": 120, "opacity": 1},
          "encoding": {}
        },
        {
          "data": {"values": [{"t":"2023-11-06T15:00:00Z","price":12.032}]},
          "mark": {"type": "point", "shape": "circle", "filled": true, "fill": "white", "stroke": "#30353b", "strokeWidth": 1.2, "size": 130, "opacity": 1},
          "encoding": {}
        },
        {
          "data": {"values": [
            {"t":"2023-11-07T10:12:00Z","t2":"2023-11-07T16:18:00Z","price":12.16,"price2":11.882,"kind":"last"},
            {"t":"2023-11-07T08:12:00Z","t2":"2023-11-07T10:12:00Z","price":6.646,"price2":6.382,"kind":"cross"},
            {"t":"2023-11-07T10:18:00Z","t2":"2023-11-07T16:12:00Z","price":6.646,"price2":6.382,"kind":"cross"},
            {"t":"2023-11-03T09:42:00Z","t2":"2023-11-03T20:12:00Z","price":4.368,"price2":4.118,"kind":"cross"}
          ]},
          "mark": {"type": "rect"},
          "encoding": {
            "x2": {"field": "t2"},
            "y2": {"field": "price2"},
            "color": {"field": "kind", "type": "nominal", "legend": null, "scale": {"domain": ["last","cross"], "range": ["#0ab285","#868a94"]}}
          }
        },
        {
          "data": {"values": [
            {"t":"2023-11-07T13:12:00Z","price":12.021,"label":"12.032"},
            {"t":"2023-11-07T13:12:00Z","price":6.514,"label":"6.518"},
            {"t":"2023-11-03T15:00:00Z","price":4.243,"label":"2023-11-03 15:00"}
          ]},
          "mark": {"type": "text", "fontSize": 12, "fontWeight": "bold", "color": "white"},
          "encoding": {"text": {"field": "label"}}
        },
        {
          "data": {"values": [{"t":"2023-11-07T09:12:00Z","price":6.514}]},
          "mark": {"type": "point", "shape": "M-1,0H1M0,-1V1", "filled": false, "size": 144, "stroke": "#e6e8ea", "strokeWidth": 1.4, "opacity": 1},
          "encoding": {}
        },
        {
          "data": {"values": [{"t":"2023-11-04T23:00:00Z","price":14.078,"label":"14.078 →"}]},
          "mark": {"type": "text", "align": "right", "dx": -2, "fontSize": 11.5, "color": "#2b3140"},
          "encoding": {"text": {"field": "label"}}
        },
        {
          "data": {"values": [{"t":"2023-11-03T03:12:00Z","price":4.993,"label":"7"}]},
          "mark": {"type": "text", "align": "center", "fontSize": 11.5, "color": "#2b3140", "clip": true},
          "encoding": {"text": {"field": "label"}}
        },
        {
          "data": {"values": [
            {"t":"2023-11-03T03:12:00Z","price":14.625,"label":"0","tone":"num"},
            {"t":"2023-11-03T04:04:00Z","price":14.625,"label":"低","tone":"name"},
            {"t":"2023-11-03T05:34:00Z","price":14.625,"label":"6.507","tone":"num"},
            {"t":"2023-11-03T09:12:00Z","price":14.625,"label":"收","tone":"name"},
            {"t":"2023-11-03T10:42:00Z","price":14.625,"label":"6.693","tone":"num"},
            {"t":"2023-11-03T14:15:00Z","price":14.625,"label":"涨幅","tone":"name"},
            {"t":"2023-11-03T16:58:00Z","price":14.625,"label":"2.48%(0.162)","tone":"num"},
            {"t":"2023-11-04T00:54:00Z","price":14.625,"label":"振幅","tone":"name"},
            {"t":"2023-11-04T03:36:00Z","price":14.625,"label":"6.17%","tone":"num"}
          ]},
          "mark": {"type": "text", "align": "left", "fontSize": 12},
          "encoding": {
            "text": {"field": "label"},
            "color": {"field": "tone", "type": "nominal", "legend": null, "scale": {"domain": ["num","name"], "range": ["#13b58a","#8d929b"]}}
          }
        },
        {
          "data": {"values": [{"t":"2023-11-07T07:32:00Z","price":14.569}]},
          "mark": {"type": "point", "filled": false, "size": 324, "stroke": "#a4a8ae", "strokeWidth": 1, "opacity": 1,
            "shape": "M-1,-1H1V1H-1Z M.05,-.75V-.2H.6 M-.6,.2H-.05V.75"},
          "encoding": {}
        }
      ]
    }
  ]
}
